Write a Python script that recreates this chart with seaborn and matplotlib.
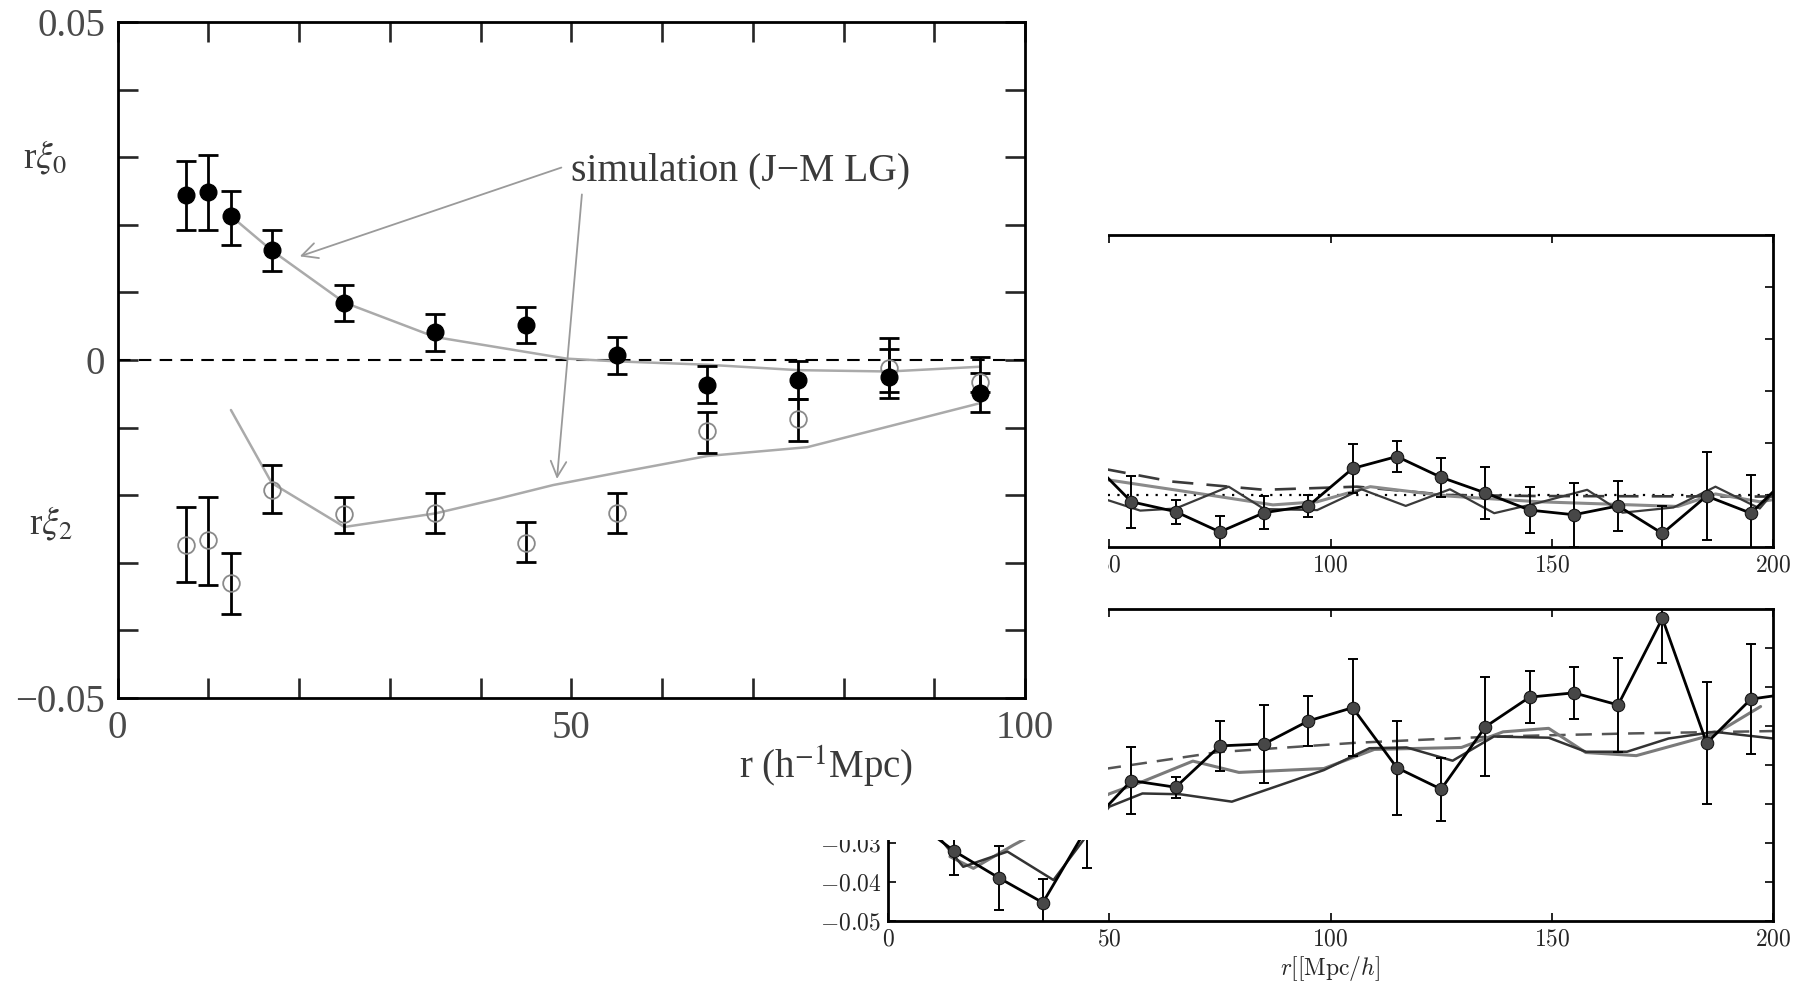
import numpy as np
import seaborn as sns
import matplotlib.pyplot as plt
from matplotlib.patches import Rectangle

# ---- left panel: r*xi_0 (filled) and r*xi_2 (open) with simulation curves
r_left = [7.5, 10, 12.5, 17, 25, 35, 45, 55, 65, 75, 85, 95]
xi0 = [0.0244, 0.0248, 0.0213, 0.0162, 0.0085, 0.0042, 0.0052, 0.0007, -0.0037, -0.0030, -0.0025, -0.0049]
xi0_lo = [0.0192, 0.0192, 0.0170, 0.0132, 0.0058, 0.0013, 0.0025, -0.0021, -0.0064, -0.0058, -0.0048, -0.0077]
xi0_hi = [0.0294, 0.0303, 0.0250, 0.0192, 0.0111, 0.0068, 0.0078, 0.0034, -0.0009, -0.0002, 0.0017, 0.0004]
xi2 = [-0.0274, -0.0267, -0.0330, -0.0192, -0.0228, -0.0227, -0.0270, -0.0227, -0.0105, -0.0088, -0.0012, -0.0033]
xi2_lo = [-0.0329, -0.0333, -0.0376, -0.0227, -0.0256, -0.0256, -0.0299, -0.0256, -0.0137, -0.0120, -0.0056, -0.0047]
xi2_hi = [-0.0218, -0.0202, -0.0286, -0.0155, -0.0202, -0.0197, -0.0240, -0.0197, -0.0077, -0.0058, 0.0032, -0.0019]

sim0_r = [12.5, 17, 25, 35, 49.5, 55, 65, 75, 85, 95]
sim0 = [0.0213, 0.0162, 0.0085, 0.0034, 0.0002, -0.0002, -0.0007, -0.0015, -0.0017, -0.0010]
sim2_r = [12.5, 17, 25, 35, 42, 48, 55, 65, 76, 95]
sim2 = [-0.0074, -0.0182, -0.0247, -0.0227, -0.0205, -0.0185, -0.0167, -0.0142, -0.0129, -0.0064]

# ---- right upper panel (monopole)
r_up = [45, 55, 65, 75, 85, 95, 105, 115, 125, 135, 145, 155, 165, 175, 185, 195, 205]
up_xi = [0.0073, -0.0013, -0.0032, -0.0071, -0.0034, -0.0021, 0.0051, 0.0074, 0.0034, 0.0004,
         -0.0029, -0.0038, -0.0021, -0.0074, -0.0002, -0.0035, 0.0047]
up_err = [0.004, 0.005, 0.0023, 0.0031, 0.0032, 0.0021, 0.0048, 0.0029, 0.0038, 0.005,
          0.0044, 0.0062, 0.0048, 0.0053, 0.0085, 0.0073, 0.004]
up_mockA_r = [49, 57, 65, 77, 85, 97, 107, 117, 127, 137, 147, 158, 166, 177.5, 187, 197, 200]
up_mockA = [-0.0008, -0.0030, -0.0026, 0.0016, -0.0027, -0.0029, 0.0011, -0.0021, 0.0011, -0.0035,
            -0.0015, 0.0010, -0.0034, -0.0024, 0.0016, -0.0026, 0.0004]
up_mockB_r = [49, 72.5, 87, 97, 109, 126.5, 147, 178.5, 187, 197, 200]
up_mockB = [0.0030, 0.0, -0.0019, -0.0013, 0.0016, -0.0002, -0.0013, -0.0022, 0.0002, -0.0013, -0.0009]
up_model_r = [49, 64, 85, 106, 126.5, 147, 200]
up_model = [0.0050, 0.0026, 0.0010, 0.0016, 0.0, -0.0002, -0.0003]

# ---- right lower panel (quadrupole)
r_lo = [5, 15, 25, 35, 45, 55, 65, 75, 85, 95, 105, 115, 125, 135, 145, 155, 165, 175, 185, 195, 205]
lo_xi = [-0.0235, -0.0321, -0.0389, -0.0453, -0.0260, -0.0140, -0.0157, -0.0051, -0.0046, 0.0013,
         0.0047, -0.0107, -0.0162, -0.0002, 0.0074, 0.0085, 0.0054, 0.0276, -0.0044, 0.0069, 0.0085]
lo_err = [0.005, 0.006, 0.0082, 0.006, 0.0105, 0.0085, 0.0027, 0.0064, 0.0099, 0.0063,
          0.0125, 0.012, 0.0081, 0.0127, 0.0067, 0.0066, 0.012, 0.0115, 0.0157, 0.0142, 0.01]
lo_mockA_r = [14, 19.3, 28.4, 50, 57, 68.9, 79.3, 98.5, 109.9, 129.6, 139, 149.3, 157.7, 169.1, 186.8, 197.2]
lo_mockA = [-0.0335, -0.0365, -0.0305, -0.0174, -0.0145, -0.0090, -0.0119, -0.0109, -0.0060, -0.0055,
            -0.0015, -0.0006, -0.0068, -0.0076, -0.0021, 0.0050]
lo_mockB_r = [8, 12, 17, 27, 37.4, 44.2, 50, 57.5, 66, 77.7, 98.5, 108.8, 117.2, 127.6, 136.9,
              149.3, 157.7, 167, 176.4, 186.8, 200]
lo_mockB = [-0.0250, -0.0292, -0.0361, -0.0322, -0.0395, -0.0292, -0.0207, -0.0173, -0.0175, -0.0194,
            -0.0113, -0.0057, -0.0055, -0.0089, -0.0027, -0.0030, -0.0066, -0.0066, -0.0032, -0.0015, -0.0032]
lo_model_r = [49, 74.6, 105.8, 136.9, 168.1, 200]
lo_model = [-0.0110, -0.0067, -0.0043, -0.0027, -0.0019, -0.0013]

sns.set_theme(style="ticks", rc={"xtick.direction": "in", "ytick.direction": "in",
                                 "xtick.top": True, "ytick.right": True})
plt.rcParams["mathtext.fontset"] = "cm"
plt.rcParams["font.family"] = ["DejaVu Serif"]

W, H = 1800, 981
fig = plt.figure(figsize=(18, 9.81), dpi=100)


def box(x0, y0, x1, y1):
    return [x0 / W, 1 - y1 / H, (x1 - x0) / W, (y1 - y0) / H]


ax_up = fig.add_axes(box(888, 235, 1773, 547))
ax_lo = fig.add_axes(box(888, 609, 1773, 921))

for a in (ax_up, ax_lo):
    a.set_xlim(0, 200)
    a.set_xticks([0, 50, 100, 150, 200])
    a.tick_params(length=6, width=1.2, labelsize=17, color="black", pad=5)
    for s in a.spines.values():
        s.set_linewidth(2)
        s.set_color("black")
# labels that sit under the pasted left figure are left blank
ax_up.set_xticklabels(["", "$50$", "$100$", "$150$", "$200$"])
ax_lo.set_xticklabels(["$0$", "$50$", "$100$", "$150$", "$200$"])

ax_up.set_ylim(-0.01, 0.05)
ax_up.set_yticks(np.arange(-0.01, 0.051, 0.01))
ax_up.set_yticklabels([""] * 7)
ax_up.axhline(0, color="black", ls=(0, (1, 3.3)), lw=1.6)
sns.lineplot(x=up_model_r, y=up_model, ax=ax_up, color="#3a3a3a", lw=1.9, ls=(0, (8, 5)), sort=False)
sns.lineplot(x=up_mockB_r, y=up_mockB, ax=ax_up, color="#8a8a8a", lw=2.2, sort=False)
sns.lineplot(x=up_mockA_r, y=up_mockA, ax=ax_up, color="#3a3a3a", lw=1.6, sort=False)
ax_up.errorbar(r_up, up_xi, yerr=up_err, fmt="none", ecolor="black", elinewidth=1.4, capsize=3.5, capthick=1.4)
sns.lineplot(x=r_up, y=up_xi, ax=ax_up, color="black", lw=2, marker="o", markersize=9,
             markerfacecolor="#474747", markeredgecolor="#111111", sort=False)

ax_lo.set_ylim(-0.05, 0.03)
ax_lo.set_yticks(np.arange(-0.05, 0.031, 0.01))
ax_lo.set_yticklabels(["$-0.05$", "$-0.04$", "$-0.03$", "", "", "", "", "", ""])
sns.lineplot(x=lo_model_r, y=lo_model, ax=ax_lo, color="#555555", lw=1.8, ls=(0, (6.5, 4)), sort=False)
sns.lineplot(x=lo_mockA_r, y=lo_mockA, ax=ax_lo, color="#7a7a7a", lw=2.2, sort=False)
sns.lineplot(x=lo_mockB_r, y=lo_mockB, ax=ax_lo, color="#333333", lw=1.8, sort=False)
ax_lo.errorbar(r_lo, lo_xi, yerr=lo_err, fmt="none", ecolor="black", elinewidth=1.4, capsize=3.5, capthick=1.4)
sns.lineplot(x=r_lo, y=lo_xi, ax=ax_lo, color="black", lw=2, marker="o", markersize=9,
             markerfacecolor="#474747", markeredgecolor="#111111", sort=False)
ax_lo.set_xlabel(r"$r[[\mathrm{Mpc}/h]$", fontsize=17, labelpad=2)

# white backdrop of the pasted left figure
fig.add_artist(Rectangle((0, 1 - 840 / H), 1108 / W, 840 / H, transform=fig.transFigure,
                         facecolor="white", edgecolor="none", zorder=1))

ax = fig.add_axes(box(117.5, 22, 1025, 698))
ax.set_zorder(2)
ax.set_facecolor("white")
ax.set_xlim(0, 100)
ax.set_ylim(-0.05, 0.05)
ax.axhline(0, color="black", ls=(0, (6, 4)), lw=1.5)

sns.lineplot(x=sim0_r, y=sim0, ax=ax, color="#aaaaaa", lw=1.8, sort=False)
sns.lineplot(x=sim2_r, y=sim2, ax=ax, color="#aaaaaa", lw=1.8, sort=False)

y0 = np.array(xi0)
y2 = np.array(xi2)
ax.errorbar(r_left, xi0, yerr=[y0 - np.array(xi0_lo), np.array(xi0_hi) - y0], fmt="o", color="black",
            ms=12, elinewidth=2, capsize=7, capthick=2)
ax.errorbar(r_left, xi2, yerr=[y2 - np.array(xi2_lo), np.array(xi2_hi) - y2], fmt="none", ecolor="black",
            elinewidth=2, capsize=7, capthick=2)
ax.plot(r_left, xi2, "o", ms=12, mfc="none", mec="#8a8a8a", mew=1.3)

ax.text(50, 0.028, "simulation (J\u2212M LG)", fontsize=28.5, family="Liberation Serif",
        color="#3a3a3a", va="center", ha="left")
arrow = dict(arrowstyle="->", color="#9a9a9a", lw=1.3, mutation_scale=28)
ax.annotate("", xy=(19.8, 0.0152), xytext=(49.2, 0.0286), arrowprops=arrow)
ax.annotate("", xy=(48.4, -0.018), xytext=(51.2, 0.0249), arrowprops=arrow)

ax.set_xticks(range(0, 101, 10))
ax.set_xticklabels(["0", "", "", "", "", "50", "", "", "", "", "100"])
ax.set_yticks(np.linspace(-0.05, 0.05, 11))
ax.set_yticklabels(["\u22120.05", "", "", "", "", "0", "", "", "", "", "0.05"])
ax.tick_params(length=14.5, width=1.9, labelsize=28, labelcolor="#4a4a4a", pad=9)
for lab in ax.get_xticklabels() + ax.get_yticklabels():
    lab.set_family("Liberation Serif")
for s in ax.spines.values():
    s.set_linewidth(2)
    s.set_color("black")

fig.text(826 / W, 1 - 767 / H, "r (h$^{-1}$Mpc)", fontsize=28, family="Liberation Serif",
         math_fontfamily="stix", color="#3a3a3a", ha="center", va="center")
fig.text(45 / W, 1 - 157 / H, r"r$\xi_0$", fontsize=27, family="Liberation Serif",
         math_fontfamily="stix", color="#3a3a3a", ha="center", va="center")
fig.text(51 / W, 1 - 523 / H, r"r$\xi_2$", fontsize=27, family="Liberation Serif",
         math_fontfamily="stix", color="#3a3a3a", ha="center", va="center")

fig.savefig("out.png", dpi=100, facecolor="white")
